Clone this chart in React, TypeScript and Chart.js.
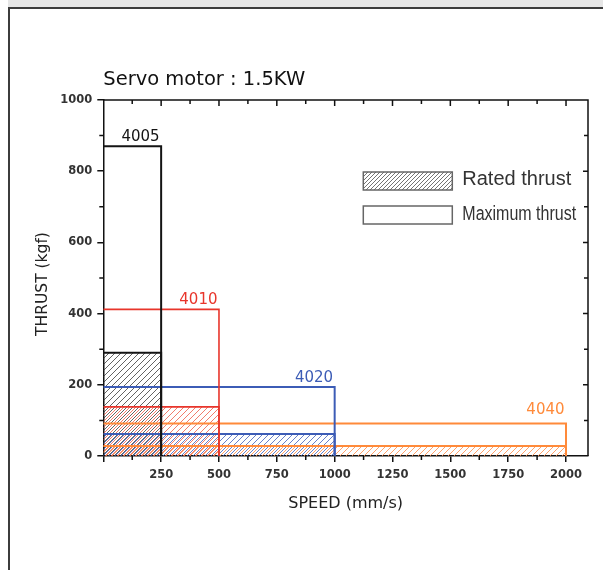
import React, { useEffect, useRef } from 'react';
import { Chart, registerables } from 'chart.js';

Chart.register(...registerables);

// ---- data ----
const models = ['4005', '4010', '4020', '4040'];
const maxSpeed = [250, 500, 1000, 2000]; // mm/s
const maxThrust = [870, 412, 194, 91]; // kgf
const ratedThrust = [290, 138, 62, 28]; // kgf
const xTicks = [0, 250, 500, 750, 1000, 1250, 1500, 1750, 2000];
const yTicks = [0, 200, 400, 600, 800, 1000];
const xMax = 2095;
const yMax = 1000;
const legendLabels = ['Rated thrust', 'Maximum thrust'];
const titleText = 'Servo motor : 1.5KW';
const xTitle = 'SPEED (mm/s)';
const yTitle = 'THRUST (kgf)';

// ---- styles ----
const FONT = '"DejaVu Sans", sans-serif';
const LEG_FONT = '"Liberation Sans", Arial, sans-serif';
const lineColors = ['#141414', '#e8352b', '#3c5cb6', '#ff8a3a'];
const hatchColors = ['rgba(60,60,60,0.8)', 'rgba(236,80,60,0.75)', 'rgba(66,96,186,0.8)', 'rgba(255,145,80,0.85)'];
const hatchShift = [0, 3, 1, 4];
const lineWidths = [2, 1.6, 2, 2];
const labelGap = [5, 5, 5, 10];

function midpoints(arr: number[]) {
  const out: number[] = [];
  for (let i = 0; i < arr.length - 1; i++) out.push((arr[i] + arr[i + 1]) / 2);
  return out;
}

function makeHatch(ctx: CanvasRenderingContext2D, color: string, size: number, width: number, shift: number) {
  const c = document.createElement('canvas');
  c.width = size;
  c.height = size;
  const g = c.getContext('2d')!;
  g.strokeStyle = color;
  g.lineWidth = width;
  g.beginPath();
  for (let k = -1; k <= 1; k++) {
    g.moveTo(k * size, size);
    g.lineTo(k * size + size, 0);
  }
  g.stroke();
  const p = ctx.createPattern(c, 'repeat')!;
  if (shift && (p as any).setTransform) p.setTransform(new DOMMatrix([1, 0, 0, 1, shift, 0]));
  return p;
}

export default function App() {
  const ref = useRef<HTMLCanvasElement>(null);

  useEffect(() => {
    const canvas = ref.current!;
    const ctx0 = canvas.getContext('2d')!;
    const patterns = hatchColors.map((c, i) => makeHatch(ctx0, c, 6, 1, hatchShift[i]));
    const legendPattern = makeHatch(ctx0, 'rgba(90,90,90,0.85)', 4, 1, 0);

    const datasets: any[] = [];
    models.forEach((m, i) => {
      datasets.push({
        label: m + ' maximum',
        data: [
          { x: 0, y: maxThrust[i] },
          { x: maxSpeed[i], y: maxThrust[i] },
          { x: maxSpeed[i], y: 0 },
        ],
        borderColor: lineColors[i],
        borderWidth: lineWidths[i],
        borderJoinStyle: 'miter',
        pointRadius: 0,
        fill: false,
        tension: 0,
      });
      datasets.push({
        label: m + ' rated',
        data: [
          { x: 0, y: ratedThrust[i] },
          { x: maxSpeed[i], y: ratedThrust[i] },
          { x: maxSpeed[i], y: 0 },
        ],
        borderColor: lineColors[i],
        borderWidth: lineWidths[i],
        borderJoinStyle: 'miter',
        pointRadius: 0,
        fill: 'origin',
        backgroundColor: patterns[i],
        tension: 0,
      });
    });

    const decor = {
      id: 'decor',
      afterDatasetsDraw(chart: any) {
        const { ctx, scales } = chart;
        const x = scales.x, y = scales.y;
        ctx.save();
        ctx.font = `15px ${FONT}`;
        ctx.textAlign = 'right';
        ctx.textBaseline = 'alphabetic';
        models.forEach((m, i) => {
          ctx.fillStyle = lineColors[i];
          ctx.fillText(m, x.getPixelForValue(maxSpeed[i]) - 1.5, y.getPixelForValue(maxThrust[i]) - labelGap[i]);
        });
        ctx.restore();
      },
      afterDraw(chart: any) {
        const { ctx, chartArea: a, scales } = chart;
        const x = scales.x, y = scales.y;
        ctx.save();
        ctx.strokeStyle = '#111';
        ctx.lineWidth = 1.5;
        ctx.beginPath();
        ctx.moveTo(a.left, a.top);
        ctx.lineTo(a.right, a.top);
        ctx.lineTo(a.right, a.bottom);
        ctx.stroke();

        ctx.beginPath();
        xTicks.forEach((v) => {
          if (v <= 0) return;
          const px = x.getPixelForValue(v);
          ctx.moveTo(px, a.top);
          ctx.lineTo(px, a.top + 6);
        });
        midpoints(xTicks).forEach((v) => {
          const px = x.getPixelForValue(v);
          ctx.moveTo(px, a.top);
          ctx.lineTo(px, a.top + 4);
          ctx.moveTo(px, a.bottom);
          ctx.lineTo(px, a.bottom + 4);
        });
        yTicks.forEach((v) => {
          if (v <= 0 || v >= yMax) return;
          const py = y.getPixelForValue(v);
          ctx.moveTo(a.right, py);
          ctx.lineTo(a.right - 5, py);
        });
        midpoints(yTicks).forEach((v) => {
          const py = y.getPixelForValue(v);
          ctx.moveTo(a.left, py);
          ctx.lineTo(a.left - 4, py);
          ctx.moveTo(a.right, py);
          ctx.lineTo(a.right - 4, py);
        });
        ctx.stroke();

        // y axis title
        ctx.save();
        ctx.fillStyle = '#222';
        ctx.font = `15.5px ${FONT}`;
        ctx.textAlign = 'center';
        ctx.textBaseline = 'alphabetic';
        ctx.translate(47, (a.top + a.bottom) / 2 + 6);
        ctx.rotate(-Math.PI / 2);
        ctx.fillText(yTitle, 0, 0);
        ctx.restore();

        // legend
        const bx = a.left + 260;
        const by = [a.top + 72, a.top + 106];
        const bw = 89, bh = 18;
        ctx.fillStyle = legendPattern;
        ctx.fillRect(bx, by[0], bw, bh);
        ctx.strokeStyle = '#666';
        ctx.lineWidth = 1.5;
        ctx.strokeRect(bx, by[0], bw, bh);
        ctx.strokeRect(bx, by[1], bw, bh);
        ctx.fillStyle = '#333';
        ctx.font = `20px ${LEG_FONT}`;
        ctx.textAlign = 'left';
        ctx.textBaseline = 'alphabetic';
        ctx.fillText(legendLabels[0], bx + 99, by[0] + 13);
        ctx.save();
        ctx.translate(bx + 99, by[1] + 13.5);
        ctx.scale(0.8, 1);
        ctx.fillText(legendLabels[1], 0, 0);
        ctx.restore();
        ctx.restore();
      },
    };

    const tickFont = { family: FONT, size: 11.5, weight: 'bold' as const };

    const chart = new Chart(canvas, {
      type: 'line',
      data: { datasets },
      options: {
        responsive: false,
        animation: false,
        events: [],
        devicePixelRatio: 1,
        layout: { padding: { top: 68.6, left: 0, right: 15, bottom: 0 } },
        plugins: {
          legend: { display: false },
          tooltip: { enabled: false },
          filler: { drawTime: 'beforeDatasetsDraw' },
          title: {
            display: true,
            text: titleText,
            align: 'start',
            fullSize: false,
            color: '#111',
            font: { family: FONT, size: 19.5, weight: 'normal' },
            padding: { top: 0, bottom: 8 },
          },
        },
        scales: {
          x: {
            type: 'linear',
            min: 0,
            max: xMax,
            z: 1,
            afterBuildTicks: (s: any) => {
              s.ticks = xTicks.map((v) => ({ value: v }));
            },
            afterFit: (s: any) => {
              s.height = 114;
            },
            ticks: {
              callback: (v: any) => (v === 0 ? '' : String(v)),
              font: tickFont,
              color: '#333',
              padding: 6,
              maxRotation: 0,
              autoSkip: false,
            },
            grid: { display: true, drawOnChartArea: false, drawTicks: true, tickLength: 6, color: '#111', lineWidth: 1.5 },
            border: { display: true, color: '#111', width: 1.5 },
            title: {
              display: true,
              text: xTitle,
              color: '#222',
              font: { family: FONT, size: 16 },
              padding: { top: 0, bottom: 57 },
            },
          },
          y: {
            type: 'linear',
            min: 0,
            max: yMax,
            z: 1,
            afterBuildTicks: (s: any) => {
              s.ticks = yTicks.map((v) => ({ value: v }));
            },
            afterFit: (s: any) => {
              s.width = 103.3;
            },
            ticks: {
              callback: (v: any) => String(v),
              font: tickFont,
              color: '#333',
              padding: 5,
              autoSkip: false,
            },
            grid: { display: true, drawOnChartArea: false, drawTicks: true, tickLength: 6, color: '#111', lineWidth: 1.5 },
            border: { display: true, color: '#111', width: 1.5 },
            title: { display: false },
          },
        },
      } as any,
      plugins: [decor],
    });

    return () => chart.destroy();
  }, []);

  return (
    <div style={{ position: 'fixed', left: 0, top: 0, width: 603, height: 570, background: '#fff', overflow: 'hidden' }}>
      <div style={{ position: 'absolute', left: 8, top: 0, width: 595, height: 7, background: '#e6e6e6' }} />
      <div
        style={{
          position: 'absolute',
          left: 8,
          top: 7,
          width: 595,
          height: 563,
          borderLeft: '2px solid #3c3c3c',
          borderTop: '2px solid #3c3c3c',
          boxSizing: 'border-box',
        }}
      />
      <canvas ref={ref} width={603} height={570} style={{ position: 'absolute', left: 0, top: 0, width: 603, height: 570 }} />
    </div>
  );
}
